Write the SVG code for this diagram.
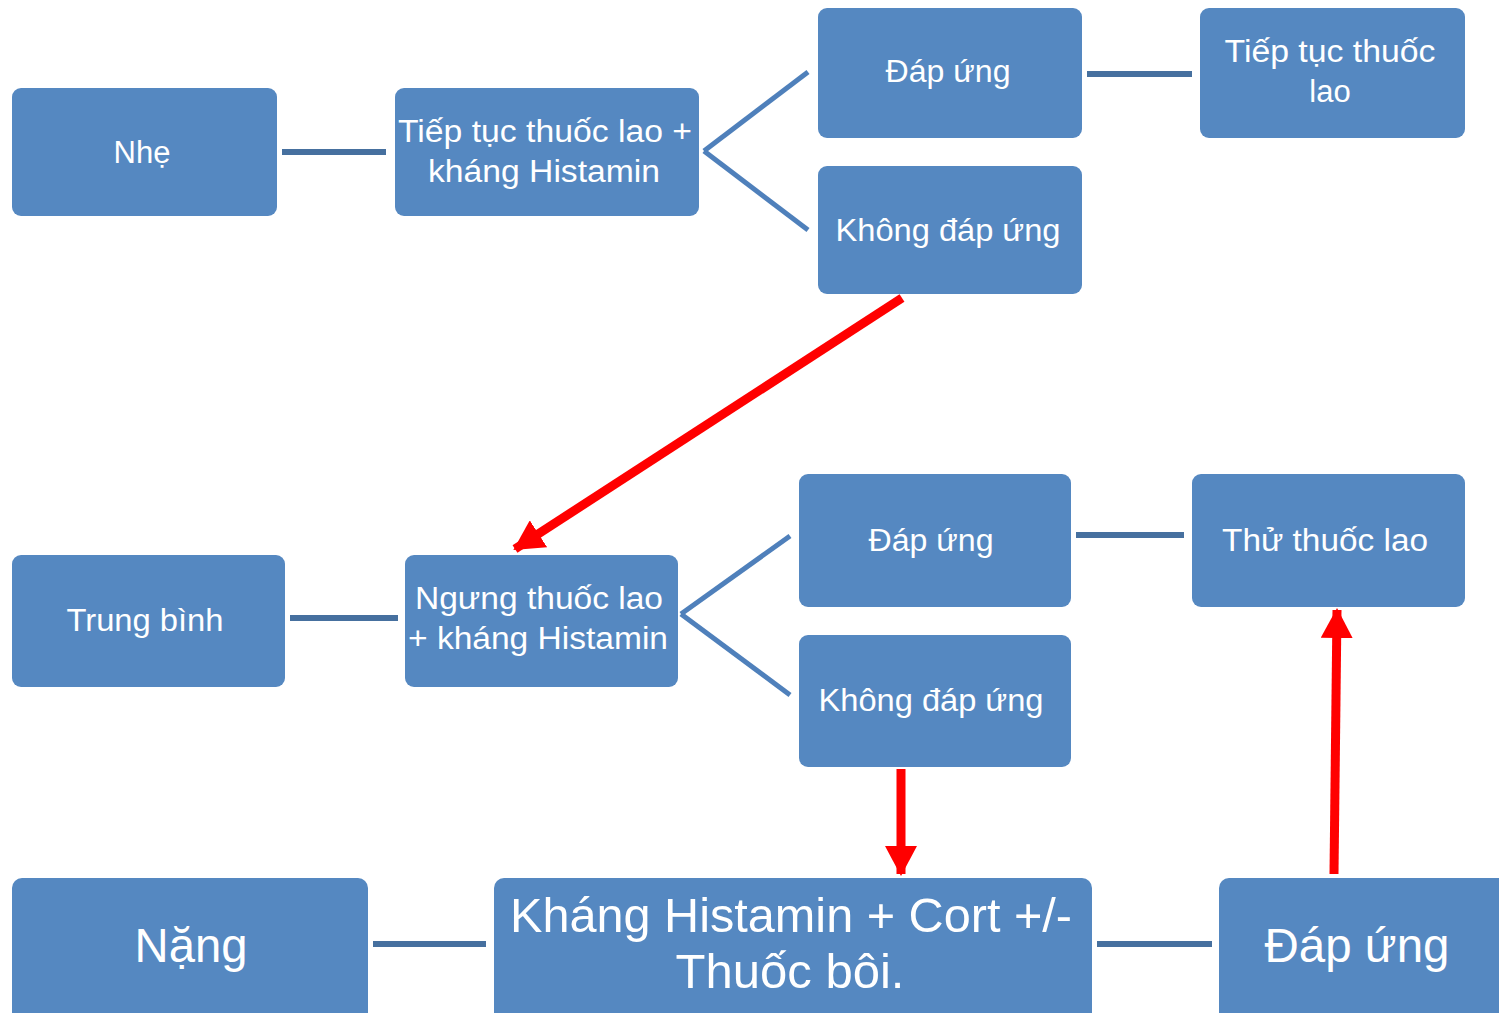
<svg xmlns="http://www.w3.org/2000/svg" width="1499" height="1013" viewBox="0 0 1499 1013">
<defs>
<style>
.box{fill:#5588C1;}
.t{fill:#ffffff;font-family:"Liberation Sans",Arial,sans-serif;font-size:31px;text-anchor:middle;}
.tl{font-size:48px;}
.h{stroke:#46709F;stroke-width:6;fill:none;}
.d{stroke:#4F80BB;stroke-width:5;fill:none;}
.r{stroke:#FF0000;stroke-width:9;fill:none;}
</style>
<marker id="ah" markerUnits="userSpaceOnUse" viewBox="0 0 30 32" refX="28" refY="16" markerWidth="30" markerHeight="32" orient="auto">
<path d="M0,0 L30,16 L0,32 Z" fill="#FF0000"/>
</marker>
</defs>
<rect width="1499" height="1013" fill="#ffffff"/>
<g id="connectors">
<line class="h" x1="282" y1="152" x2="386" y2="152"/>
<line class="d" x1="704" y1="151" x2="808" y2="72"/>
<line class="d" x1="704" y1="151" x2="808" y2="230"/>
<line class="h" x1="1087" y1="74" x2="1192" y2="74"/>
<line class="h" x1="290" y1="618" x2="398" y2="618"/>
<line class="d" x1="681" y1="614" x2="790" y2="536"/>
<line class="d" x1="681" y1="614" x2="790" y2="695"/>
<line class="h" x1="1076" y1="535" x2="1184" y2="535"/>
<line class="h" x1="373" y1="944" x2="486" y2="944"/>
<line class="h" x1="1097" y1="944" x2="1212" y2="944"/>
<line class="r" x1="902" y1="298" x2="515" y2="549" marker-end="url(#ah)"/>
<line class="r" x1="901" y1="769" x2="901" y2="874" marker-end="url(#ah)"/>
<line class="r" x1="1334" y1="874" x2="1337" y2="610" marker-end="url(#ah)"/>
</g>
<g id="n1"><rect class="box" x="12" y="88" width="265" height="128" rx="9"/><text class="t" x="142" y="163">Nhẹ</text></g>
<g id="n2"><rect class="box" x="395" y="88" width="304" height="128" rx="9"/><text class="t" x="545" y="142" textLength="294" lengthAdjust="spacingAndGlyphs">Tiếp tục thuốc lao +</text><text class="t" x="544" y="182" textLength="232" lengthAdjust="spacingAndGlyphs">kháng Histamin</text></g>
<g id="n3"><rect class="box" x="818" y="8" width="264" height="130" rx="9"/><text class="t" x="948" y="82" textLength="125" lengthAdjust="spacingAndGlyphs">Đáp ứng</text></g>
<g id="n4"><rect class="box" x="1200" y="8" width="265" height="130" rx="9"/><text class="t" x="1330" y="62" textLength="211" lengthAdjust="spacingAndGlyphs">Tiếp tục thuốc</text><text class="t" x="1330" y="102">lao</text></g>
<g id="n5"><rect class="box" x="818" y="166" width="264" height="128" rx="9"/><text class="t" x="948" y="241" textLength="225" lengthAdjust="spacingAndGlyphs">Không đáp ứng</text></g>
<g id="n6"><rect class="box" x="12" y="555" width="273" height="132" rx="9"/><text class="t" x="145" y="631" textLength="157" lengthAdjust="spacingAndGlyphs">Trung bình</text></g>
<g id="n7"><rect class="box" x="405" y="555" width="273" height="132" rx="9"/><text class="t" x="539" y="609" textLength="248" lengthAdjust="spacingAndGlyphs">Ngưng thuốc lao</text><text class="t" x="538" y="649" textLength="260" lengthAdjust="spacingAndGlyphs">+ kháng Histamin</text></g>
<g id="n8"><rect class="box" x="799" y="474" width="272" height="133" rx="9"/><text class="t" x="931" y="551" textLength="125" lengthAdjust="spacingAndGlyphs">Đáp ứng</text></g>
<g id="n9"><rect class="box" x="1192" y="474" width="273" height="133" rx="9"/><text class="t" x="1325" y="551" textLength="206" lengthAdjust="spacingAndGlyphs">Thử thuốc lao</text></g>
<g id="n10"><rect class="box" x="799" y="635" width="272" height="132" rx="9"/><text class="t" x="931" y="711" textLength="225" lengthAdjust="spacingAndGlyphs">Không đáp ứng</text></g>
<g id="n11"><rect class="box" x="12" y="878" width="356" height="145" rx="10"/><text class="t tl" x="191" y="962" textLength="113" lengthAdjust="spacingAndGlyphs">Nặng</text></g>
<g id="n12"><rect class="box" x="494" y="878" width="598" height="145" rx="10"/><text class="t tl" x="791" y="932" textLength="562" lengthAdjust="spacingAndGlyphs">Kháng Histamin + Cort +/-</text><text class="t tl" x="790" y="988" textLength="229" lengthAdjust="spacingAndGlyphs">Thuốc bôi.</text></g>
<g id="n13"><rect class="box" x="1219" y="878" width="290" height="145" rx="10"/><text class="t tl" x="1357" y="962" textLength="185" lengthAdjust="spacingAndGlyphs">Đáp ứng</text></g>
</svg>
